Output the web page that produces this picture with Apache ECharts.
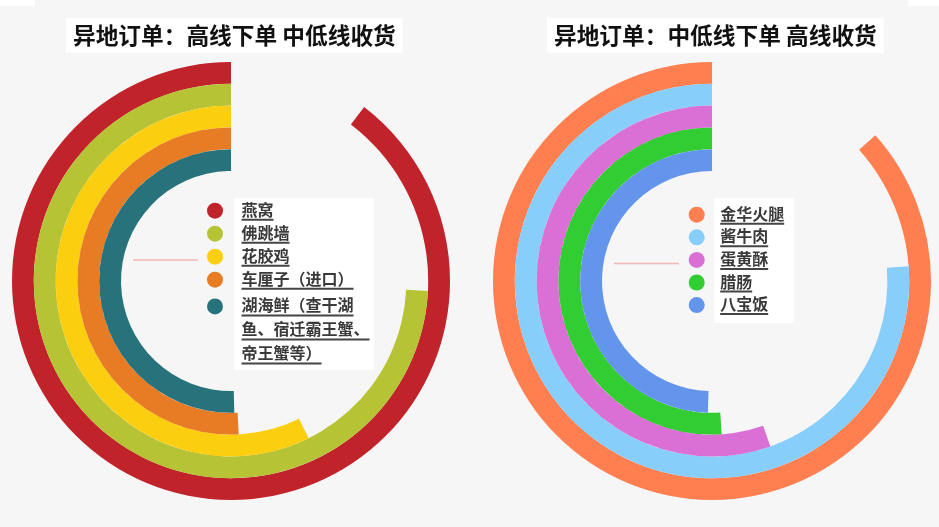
<!DOCTYPE html>
<html>
<head>
<meta charset="utf-8">
<script src="https://cdn.jsdelivr.net/npm/echarts@6/dist/echarts.min.js"></script>
<style>
  html, body { margin: 0; padding: 0; background: #f6f6f6; }
  #chart { width: 939px; height: 527px; }
</style>
</head>
<body>
<div id="chart"></div>
<script>
// ── Data (outermost ring first) ──
const leftTitle = '异地订单：高线下单 中低线收货';
const leftNames = ['燕窝', '佛跳墙', '花胶鸡', '车厘子（进口）', '湖海鲜（查干湖鱼、宿迁霸王蟹、帝王蟹等）'];
const leftValues = [89.6, 74.2, 57.3, 50.8, 50.4];
const leftColors = ['#C1232B', '#B5C334', '#FCCE10', '#E87C25', '#27727B'];

const rightTitle = '异地订单：中低线下单 高线收货';
const rightNames = ['金华火腿', '酱牛肉', '蛋黄酥', '腊肠', '八宝饭'];
const rightValues = [86.6, 76.2, 55.4, 51.0, 49.5];
const rightColors = ['#FF7F50', '#87CEFA', '#DA70D6', '#32CD32', '#6495ED'];

// legend label wrapping for the long name
const labelLines = {
  '湖海鲜（查干湖鱼、宿迁霸王蟹、帝王蟹等）': ['湖海鲜（查干湖', '鱼、宿迁霸王蟹、', '帝王蟹等）']
};

const FONT = '"Noto Sans CJK SC", "Noto Sans", sans-serif';
const chart = echarts.init(document.getElementById('chart'));

// ── Underlined legend text: measure each line, draw a thin bar under it ──
const measure = document.createElement('canvas').getContext('2d');
measure.font = 'bold 16px ' + FONT;
const rich = {
  t: { fontSize: 16, fontWeight: 'bold', lineHeight: 18, color: '#3a3a3a', fontFamily: FONT },
  sp48: { fontSize: 2, lineHeight: 48 },
  sp4: { fontSize: 2, lineHeight: 4 }
};
let uid = 0;
const underlineKey = {};
function keyFor(line) {
  if (!underlineKey[line]) {
    const k = 'u' + (uid++);
    underlineKey[line] = k;
    rich[k] = { fontSize: 2, lineHeight: 2, height: 2,
      width: Math.round(measure.measureText(line).width),
      backgroundColor: '#444' };
  }
  return underlineKey[line];
}
function legendText(name) {
  const lines = labelLines[name] || [name];
  const body = lines.map(l => `{t|${l}}\n{${keyFor(l)}| }`).join('\n{sp4| }\n');
  // multi-line entry: pad above so the first line sits on the icon
  return lines.length > 1 ? '{sp48| }\n' + body : body;
}
[...leftNames, ...rightNames].forEach(n => (labelLines[n] || [n]).forEach(keyFor));

function ringSeries(names, values, colors, polarIndex) {
  return names.map((name, i) => {
    const data = names.map(() => '-');
    data[names.length - 1 - i] = values[i];
    return {
      type: 'bar', name, coordinateSystem: 'polar', polarIndex,
      stack: 'ring' + polarIndex, barCategoryGap: '0%', silent: true,
      itemStyle: { color: colors[i] },
      data
    };
  });
}

function legendBox(opts, gap, textPad) {
  return Object.assign({
    orient: 'vertical', padding: 0, itemGap: gap, icon: 'circle',
    itemWidth: 16, itemHeight: 16, selectedMode: false,
    formatter: legendText,
    textStyle: { padding: [0, 0, 0, textPad], rich }
  }, opts);
}

const titleStyle = { fontSize: 22.7, fontWeight: 'bold', color: '#111', fontFamily: FONT };

chart.setOption({
  backgroundColor: '#f6f6f6',
  animation: false,
  title: [
    { text: leftTitle, left: 66, top: 18, padding: [6, 7], backgroundColor: '#fff', textStyle: titleStyle },
    { text: rightTitle, left: 547, top: 18, padding: [6, 7], backgroundColor: '#fff', textStyle: titleStyle }
  ],
  polar: [
    { center: [231, 281], radius: [110, 219] },
    { center: [712, 281], radius: [110, 219] }
  ],
  angleAxis: [
    { polarIndex: 0, type: 'value', min: 0, max: 100, startAngle: 90, clockwise: false, show: false },
    { polarIndex: 1, type: 'value', min: 0, max: 100, startAngle: 90, clockwise: false, show: false }
  ],
  radiusAxis: [
    { polarIndex: 0, type: 'category', data: [...leftNames].reverse(), show: false },
    { polarIndex: 1, type: 'category', data: [...rightNames].reverse(), show: false }
  ],
  legend: [
    legendBox({ data: leftNames.slice(0, 4), left: 207, top: 201.7 }, 4, 13.5),
    legendBox({ data: leftNames.slice(4), left: 207, top: 271.4 }, 4, 13.5),
    legendBox({ data: rightNames, left: 688.7, top: 205.7 }, 3.6, 10.5)
  ],
  graphic: { elements: [
    { type: 'rect', z: 0, shape: { x: 234, y: 198, width: 140, height: 172 }, style: { fill: '#fff' } },
    { type: 'rect', z: 0, shape: { x: 714, y: 198, width: 80, height: 125 }, style: { fill: '#fff' } },
    { type: 'rect', z: 0, shape: { x: 0, y: 0, width: 35, height: 6 }, style: { fill: '#fff' } },
    { type: 'rect', z: 0, shape: { x: 908, y: 0, width: 31, height: 6 }, style: { fill: '#fff' } },
    { type: 'line', z: 0, shape: { x1: 133, y1: 260, x2: 198, y2: 260 }, style: { stroke: '#f4b6b6', lineWidth: 1.5 } },
    { type: 'line', z: 0, shape: { x1: 614, y1: 263.5, x2: 679, y2: 263.5 }, style: { stroke: '#f4b6b6', lineWidth: 1.5 } }
  ] },
  series: [
    ...ringSeries(leftNames, leftValues, leftColors, 0),
    ...ringSeries(rightNames, rightValues, rightColors, 1)
  ]
});
</script>
</body>
</html>
